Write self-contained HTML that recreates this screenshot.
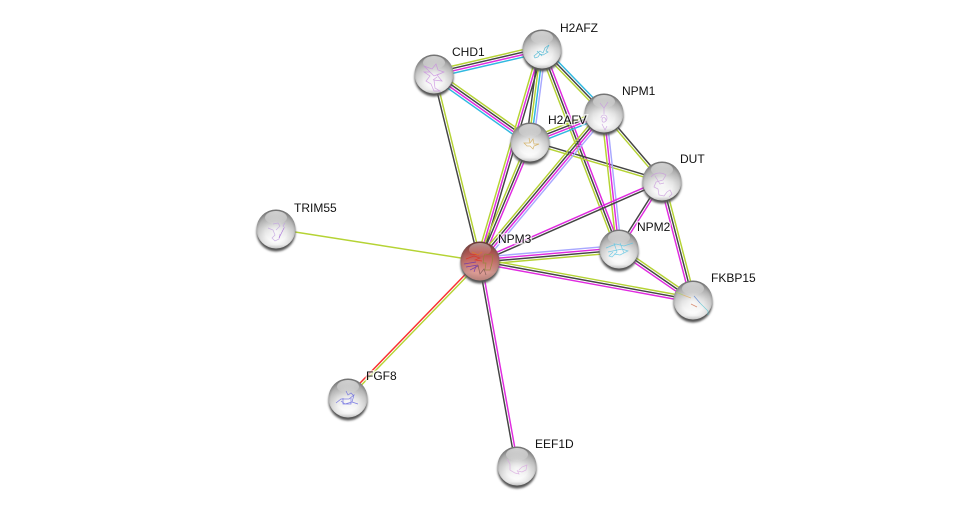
<!DOCTYPE html>
<html>
<head>
<meta charset="utf-8">
<style>
html,body{margin:0;padding:0;background:#fff;}
svg{display:block;}
.e path{fill:none;stroke-width:1.45;}
.y{stroke:#b5d334;}
.k{stroke:#444;}
.m{stroke:#e02ae0;}
.c{stroke:#30b8e0;}
.l{stroke:#a8a8ff;}
.r{stroke:#f83030;}
text{font-family:"Liberation Sans",sans-serif;font-size:12px;fill:#111;stroke:#fff;stroke-opacity:.65;stroke-width:3px;paint-order:stroke;}
.s{fill:none;stroke-width:.7;opacity:.8;}
</style>
</head>
<body>
<svg width="976" height="511" viewBox="0 0 976 511" xmlns="http://www.w3.org/2000/svg">
<defs>
<filter id="blur" x="-20%" y="-20%" width="140%" height="140%"><feGaussianBlur stdDeviation="1"/></filter>
<linearGradient id="b" x1="0" y1="0" x2="0" y2="1">
<stop offset="0" stop-color="#8e8e8e"/><stop offset=".2" stop-color="#b4b4b4"/><stop offset=".5" stop-color="#dcdcdc"/><stop offset=".75" stop-color="#f6f6f6"/><stop offset=".9" stop-color="#fff"/><stop offset="1" stop-color="#d8d8d8"/>
</linearGradient>
<linearGradient id="br" x1="0" y1="0" x2="0" y2="1">
<stop offset="0" stop-color="#7c1c18"/><stop offset=".2" stop-color="#ac4640"/><stop offset=".5" stop-color="#c86e68"/><stop offset=".8" stop-color="#dc9c94"/><stop offset="1" stop-color="#c88880"/>
</linearGradient>
<radialGradient id="edge" cx="50%" cy="55%" r="52%">
<stop offset=".55" stop-color="#666" stop-opacity="0"/><stop offset=".85" stop-color="#666" stop-opacity=".18"/><stop offset="1" stop-color="#555" stop-opacity=".5"/>
</radialGradient>
<radialGradient id="center" cx="50%" cy="50%" r="50%">
<stop offset="0" stop-color="#fff" stop-opacity=".75"/><stop offset="1" stop-color="#fff" stop-opacity="0"/>
</radialGradient>
<linearGradient id="hg" x1="0" y1="0" x2="0" y2="1">
<stop offset="0" stop-color="#fff" stop-opacity=".65"/><stop offset="1" stop-color="#fff" stop-opacity=".05"/>
</linearGradient>
<g id="ball">
<ellipse cx="0" cy="3" rx="19.5" ry="19.5" fill="#555" filter="url(#blur)"/>
<circle r="19.5" fill="url(#b)"/>
<circle r="19.5" fill="url(#edge)"/>
<ellipse cx="0" cy="3" rx="12" ry="11" fill="url(#center)"/>
<ellipse cx="0" cy="-11.5" rx="11" ry="6.5" fill="url(#hg)"/>
</g>
<g id="ballr">
<ellipse cx="0" cy="3" rx="19.5" ry="19.5" fill="#555" filter="url(#blur)"/>
<circle r="19.5" fill="url(#br)"/>
<circle r="19.5" fill="url(#edge)"/>
<ellipse cx="0" cy="-11.5" rx="11" ry="6.5" fill="url(#hg)" opacity=".7"/>
</g>
</defs>

<g class="e">
<g transform="translate(434 74) rotate(-13.03)"><path class="y" d="M0-3.6H111"/><path class="k" d="M0-1.2H111"/><path class="m" d="M0 1.2H111"/><path class="c" d="M0 3.6H111"/></g>
<g transform="translate(434 74) rotate(35.3)"><path class="y" d="M0-3.6H118"/><path class="k" d="M0-1.2H118"/><path class="m" d="M0 1.2H118"/><path class="c" d="M0 3.6H118"/></g>
<g transform="translate(434 74) rotate(76.2)"><path class="y" d="M0-1.2H193"/><path class="k" d="M0 1.2H193"/></g>
<g transform="translate(542 49) rotate(45.9)"><path class="c" d="M0-2.8H89"/><path class="k" d="M0-.4H89"/><path class="y" d="M0 2H89"/></g>
<g transform="translate(542 49) rotate(106.3)"><path class="y" d="M0 3.6H221"/><path class="m" d="M0 1.2H221"/><path class="k" d="M0-1.2H221"/></g>
<g transform="translate(542 49) rotate(97.4)"><path class="k" d="M0 3.6H94"/><path class="y" d="M0 1.2H94"/><path class="c" d="M0-1.2H94"/><path class="l" d="M0-3.6H94"/></g>
<g transform="translate(542 49) rotate(69)"><path class="y" d="M0 2.8H214"/><path class="k" d="M0 .4H214"/><path class="m" d="M0-2H214"/></g>
<g transform="translate(530 142) rotate(112.8)"><path class="y" d="M0 2.6H129"/><path class="k" d="M0 .2H129"/><path class="m" d="M0-2.2H129"/></g>
<g transform="translate(530 142) rotate(16.5)"><path class="k" d="M0-1.2H138"/><path class="y" d="M0 1.2H138"/></g>
<g transform="translate(604 113) rotate(158.6)"><path class="y" d="M0 3.6H80"/><path class="k" d="M0 1.2H80"/><path class="m" d="M0-1.2H80"/><path class="c" d="M0-3.6H80"/></g>
<g transform="translate(604 113) rotate(49.5)"><path class="k" d="M0-1.2H89"/><path class="y" d="M0 1.2H89"/></g>
<g transform="translate(604 113) rotate(129.9)"><path class="y" d="M0 3.6H193"/><path class="k" d="M0 1.2H193"/><path class="m" d="M0-1.2H193"/><path class="l" d="M0-3.6H193"/></g>
<g transform="translate(604 113) rotate(83.7)"><path class="y" d="M0 2.4H137"/><path class="m" d="M0 0H137"/><path class="l" d="M0-2.4H137"/></g>
<g transform="translate(662 181) rotate(156.3)"><path class="m" d="M0 1.2H199"/><path class="k" d="M0-1.2H199"/></g>
<g transform="translate(662 181) rotate(122.3)"><path class="k" d="M0 1.2H80"/><path class="m" d="M0-1.2H80"/></g>
<g transform="translate(662 181) rotate(75.4)"><path class="m" d="M0 2.4H123"/><path class="k" d="M0 0H123"/><path class="y" d="M0-2.4H123"/></g>
<g transform="translate(619 249) rotate(175.1)"><path class="l" d="M0 3.6H140"/><path class="m" d="M0 1.2H140"/><path class="k" d="M0-1.2H140"/><path class="y" d="M0-3.6H140"/></g>
<g transform="translate(619 249) rotate(34.6)"><path class="y" d="M0-2.4H90"/><path class="k" d="M0 0H90"/><path class="m" d="M0 2.4H90"/></g>
<g transform="translate(480 261) rotate(10.4)"><path class="y" d="M0-2.4H216"/><path class="k" d="M0 0H216"/><path class="m" d="M0 2.4H216"/></g>
<path class="y" d="M276 229L480 261"/>
<g transform="translate(480 261) rotate(134.1)"><path class="r" d="M0 1.2H190"/><path class="y" d="M0-1.2H190"/></g>
<g transform="translate(480 261) rotate(79.8)"><path class="k" d="M0 1.2H208"/><path class="m" d="M0-1.2H208"/></g>
</g>

<use href="#ball" x="434" y="74"/>
<path class="s" stroke="#c88ae0" d="M424 66l8 3 4-5 2 6 6 2-7 3 5 6-8-1 1 8 5 3-6 0-3-7-5-3 4-5-6-4 6 0zM428 70l6 6 5-2M433 80l4-3"/>
<use href="#ball" x="542" y="49"/>
<path class="s" stroke="#3ab0d0" stroke-width="1" d="M534 56l6-5 3 2 2-5 4-3-3 6 2 1-5 3-3-1-2 3-3 1zM537 51l5 5"/>
<use href="#ball" x="604" y="113"/>
<path class="s" stroke="#c89ae0" d="M600 103l4 5 4-6M604 108v6M601 118c0-4 6-4 6 0s-5 6-5 2 4-3 4 1M602 124l3 6 2-4"/>
<use href="#ball" x="530" y="142"/>
<path class="s" stroke="#d0a850" stroke-width="1.1" d="M524 143h6l3-4 1 5 5 0-5 2-1 3-3-3-3 0zM529 138l1 5"/>
<use href="#ball" x="662" y="181"/>
<path class="s" stroke="#c898dc" d="M651 177c5-6 12-4 15-2l-3 5-7 2-2 5 4 2 1 6 5 1 3-4 3-2 2 4-3 3M655 176l5 8 4-1"/>
<use href="#ball" x="619" y="249"/>
<path class="s" stroke="#58c4e4" stroke-width="1" d="M606 248l10-4 8 2 9-3M608 252l14-3 6 2-8 4-6-1M614 243l3 9-5 5-3-1 4-4M620 243l4 10"/>
<use href="#ball" x="693" y="300"/>
<path class="s" d="M676 292l7 3" stroke="#b0d060"/><path class="s" d="M683 295l8 3" stroke="#e0b060"/><path class="s" d="M694 296l6 7" stroke="#5080d0"/><path class="s" d="M691 304l6 3" stroke="#d07050"/><path class="s" d="M700 303l8 8 0 4" stroke="#58c4d0"/>
<use href="#ball" x="276" y="229"/>
<path class="s" stroke="#c0a0e0" d="M268 228l5 2 2 5-3 3 3 3 4-2 1-5M273 224l5-1 2 3-4 4M285 223l-2 3 2 2"/><path class="s" stroke="#a060d8" stroke-width="1.2" d="M284 228l-3 6-2 4"/>
<use href="#ball" x="348" y="398"/>
<path class="s" stroke="#6060e0" stroke-width="1" d="M336 403l5-4h8l5-4-2 7-7 2-4-3M343 398v6h8v-6M346 391l2 4 3-2 3 3M352 402l6 2"/>
<use href="#ball" x="517" y="466"/>
<path class="s" stroke="#d8a8e0" stroke-width=".6" d="M507 459l3 5 0 6 5 3 4 1-2-4M519 470l3-3 5-2-1 5-4 2-4-1"/>
<use href="#ballr" x="480" y="261"/>
<path class="s" stroke="#e03020" stroke-width="1" d="M466 259l8-3 6 2-5 2 7 1M470 254l9 1"/>
<path class="s" stroke="#6030b0" stroke-width="1" d="M464 264l12-2M466 267l12-2M470 270l8-4M474 272l2-6"/>
<path class="s" stroke="#8a8a30" stroke-width="1" d="M485 254l8 1-1 8-2 7-5 0 1-7-3 0 1-7z"/>
<path class="s" stroke="#705050" stroke-width="1" d="M478 265l2 9 4-5 2 6"/>
<path class="s" stroke="#e08020" stroke-width=".8" d="M472 252l6 3 4-3"/>

<text x="452" y="56">CHD1</text>
<text x="560" y="32">H2AFZ</text>
<text x="622" y="95">NPM1</text>
<text x="548" y="124">H2AFV</text>
<text x="680" y="163">DUT</text>
<text x="637" y="231">NPM2</text>
<text x="711" y="282">FKBP15</text>
<text x="498" y="243">NPM3</text>
<text x="294" y="212">TRIM55</text>
<text x="366" y="380">FGF8</text>
<text x="535" y="448">EEF1D</text>
</svg>
</body>
</html>
